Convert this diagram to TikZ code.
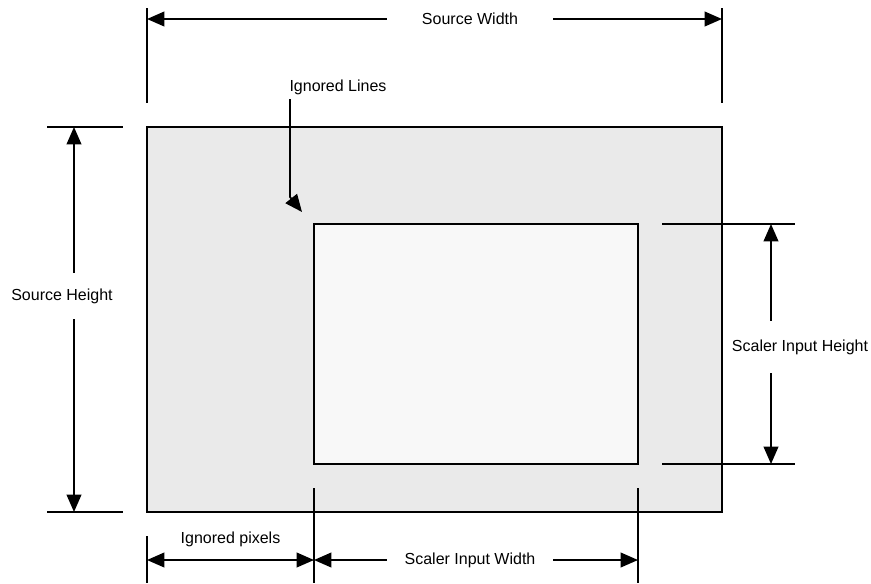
\documentclass[tikz,border=0pt]{standalone}
\usepackage{xcolor}
\usepackage{fontspec}
\setmainfont{Liberation Sans}
\usetikzlibrary{arrows.meta}
\definecolor{source}{RGB}{234,234,234}
\definecolor{scaler}{RGB}{248,248,248}
\tikzstyle{frame}=[draw, line width=1.4pt]
\tikzstyle{extline}=[line width=1pt]
\tikzstyle{gapx}=[minimum width=124.5pt, inner sep=0pt]
\tikzset{dim/.style={-{Triangle[length=13pt,width=11pt]}, line width=1.3pt}}
\tikzset{dimboth/.style={{Triangle[length=13pt,width=11pt]}-{Triangle[length=13pt,width=11pt]}, line width=1.3pt}}

\begin{document}
\begin{tikzpicture}[x=0.75pt,y=-0.75pt,font=\fontsize{12}{14}\selectfont]
  \useasboundingbox (0,0) rectangle (871,583);

  %% Frames
  \draw[frame,fill=source] (147,127) rectangle (722,512);
  \draw[frame,fill=scaler] (314,224) rectangle (638,464);

  %% Extension lines
  \draw[extline] (147,8) -- (147,103);
  \draw[extline] (722,8) -- (722,103);
  \draw[extline] (47,127) -- (123,127);
  \draw[extline] (47,512) -- (123,512);
  \draw[extline] (662,224) -- (795,224);
  \draw[extline] (662,464) -- (795,464);
  \draw[extline] (147,536) -- (147,583);
  \draw[extline] (314,488) -- (314,583);
  \draw[extline] (638,488) -- (638,583);

  %% Arrow ends
  \coordinate (SWl) at (147,19);
  \coordinate (SWr) at (722,19);
  \coordinate (SHt) at (74,127);
  \coordinate (SHb) at (74,512);
  \coordinate (SIHt) at (771,224);
  \coordinate (SIHb) at (771,464);
  \coordinate (SIWl) at (314,560);
  \coordinate (SIWr) at (638,560);
  \coordinate (IPl) at (147,560);
  \coordinate (IPr) at (314,560);
  \coordinate (ILb) at (290,197);
  \coordinate (ILt) at (302,212);

  \draw (470,19) node[gapx] (SW) {Source Width};
  \draw[dim] (SW.west) -- (SWl);
  \draw[dim] (SW.east) -- (SWr);

  \draw (62,296) node[minimum height=34.5pt, inner sep=0pt] (SH) {Source Height};
  \draw[dim] (SH.north -| SHt) -- (SHt);
  \draw[dim] (SH.south -| SHb) -- (SHb);

  \draw (800,347) node[minimum height=39pt, inner sep=0pt] (SIH) {Scaler Input Height};
  \draw[dim] (SIH.north -| SIHt) -- (SIHt);
  \draw[dim] (SIH.south -| SIHb) -- (SIHb);

  \draw (470,560) node[gapx] (SIW) {Scaler Input Width};
  \draw[dim] (SIW.west) -- (SIWl);
  \draw[dim] (SIW.east) -- (SIWr);

  \draw[dimboth] (IPl) -- (IPr) node[midway, above=6pt] (IP) {Ignored pixels};

  \draw (338,87) node (IL) {Ignored Lines};
  \draw[dim] (IL.south -| ILb) -- (ILb) -- (ILt);
\end{tikzpicture}
\end{document}
